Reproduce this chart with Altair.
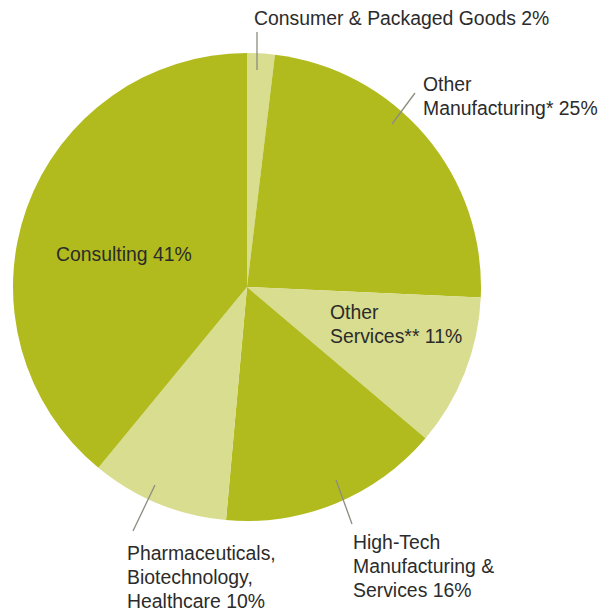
import altair as alt
import pandas as pd

# ---- data ----
categories = [
    "Consumer & Packaged Goods",
    "Other Manufacturing*",
    "Other Services**",
    "High-Tech Manufacturing & Services",
    "Pharmaceuticals, Biotechnology, Healthcare",
    "Consulting",
]
values = [2, 25, 11, 16, 10, 41]
shades = ["light", "dark", "light", "dark", "light", "dark"]
label_lines = [
    ["Consumer & Packaged Goods 2%"],
    ["Other", "Manufacturing* 25%"],
    ["Other", "Services** 11%"],
    ["High-Tech", "Manufacturing &", "Services 16%"],
    ["Pharmaceuticals,", "Biotechnology,", "Healthcare 10%"],
    ["Consulting 41%"],
]

# ---- layout (annotation placement, pixels relative to pie centre, y down) ----
label_pos = {
    "Consumer & Packaged Goods": (7, -262),
    "Other Manufacturing*": (176, -196),
    "Other Services**": (83, 32),
    "High-Tech Manufacturing & Services": (106, 262),
    "Pharmaceuticals, Biotechnology, Healthcare": (-120, 273),
    "Consulting": (-191, -26),
}
leaders = {
    "Consumer & Packaged Goods": (10, -255, 10, -217),
    "Other Manufacturing*": (145, -163, 168, -194),
    "High-Tech Manufacturing & Services": (89, 193, 105, 237),
    "Pharmaceuticals, Biotechnology, Healthcare": (-92, 198, -114, 244),
}

W, H = 596, 603
CX, CY = 239, 279
R = 234

pie_df = pd.DataFrame({"category": categories, "value": values,
                       "shade": shades, "idx": list(range(len(categories)))})

lab_df = pd.DataFrame({
    "category": categories,
    "text": label_lines,
    "lx": [label_pos[c][0] for c in categories],
    "ly": [label_pos[c][1] for c in categories],
})

lead_df = pd.DataFrame({
    "category": list(leaders.keys()),
    "x1": [v[0] for v in leaders.values()],
    "y1": [v[1] for v in leaders.values()],
    "x2": [v[2] for v in leaders.values()],
    "y2": [v[3] for v in leaders.values()],
})

xs = alt.Scale(domain=[-CX, W - CX], range=[0, W], nice=False, zero=False)
ys = alt.Scale(domain=[-CY, H - CY], reverse=True, nice=False, zero=False)

pie = alt.Chart(pie_df).mark_arc(radius=R, strokeWidth=0).encode(
    theta=alt.Theta("value:Q", stack=True),
    order=alt.Order("idx:Q"),
    color=alt.Color("shade:N", scale=alt.Scale(domain=["dark", "light"],
                                               range=["#b2bb1e", "#d8dd8f"]),
                    legend=None),
    x=alt.value(CX),
    y=alt.value(CY),
)

rules = alt.Chart(lead_df).mark_rule(color="#8c8c80", strokeWidth=1.3).encode(
    x=alt.X("x1:Q", scale=xs, axis=None),
    y=alt.Y("y1:Q", scale=ys, axis=None),
    x2="x2:Q",
    y2="y2:Q",
)

texts = alt.Chart(lab_df).mark_text(
    align="left", baseline="alphabetic", font="Liberation Sans",
    fontSize=19.4, lineHeight=24, color="#2b2b2b",
).encode(
    x=alt.X("lx:Q", scale=xs, axis=None),
    y=alt.Y("ly:Q", scale=ys, axis=None),
    text="text",
)

chart = alt.layer(pie, rules, texts).properties(
    width=W, height=H, padding=0, autosize=alt.AutoSizeParams(type="none"),
).configure_view(stroke=None)

chart.save("out.html", embed_options={"renderer": "svg", "actions": False})
